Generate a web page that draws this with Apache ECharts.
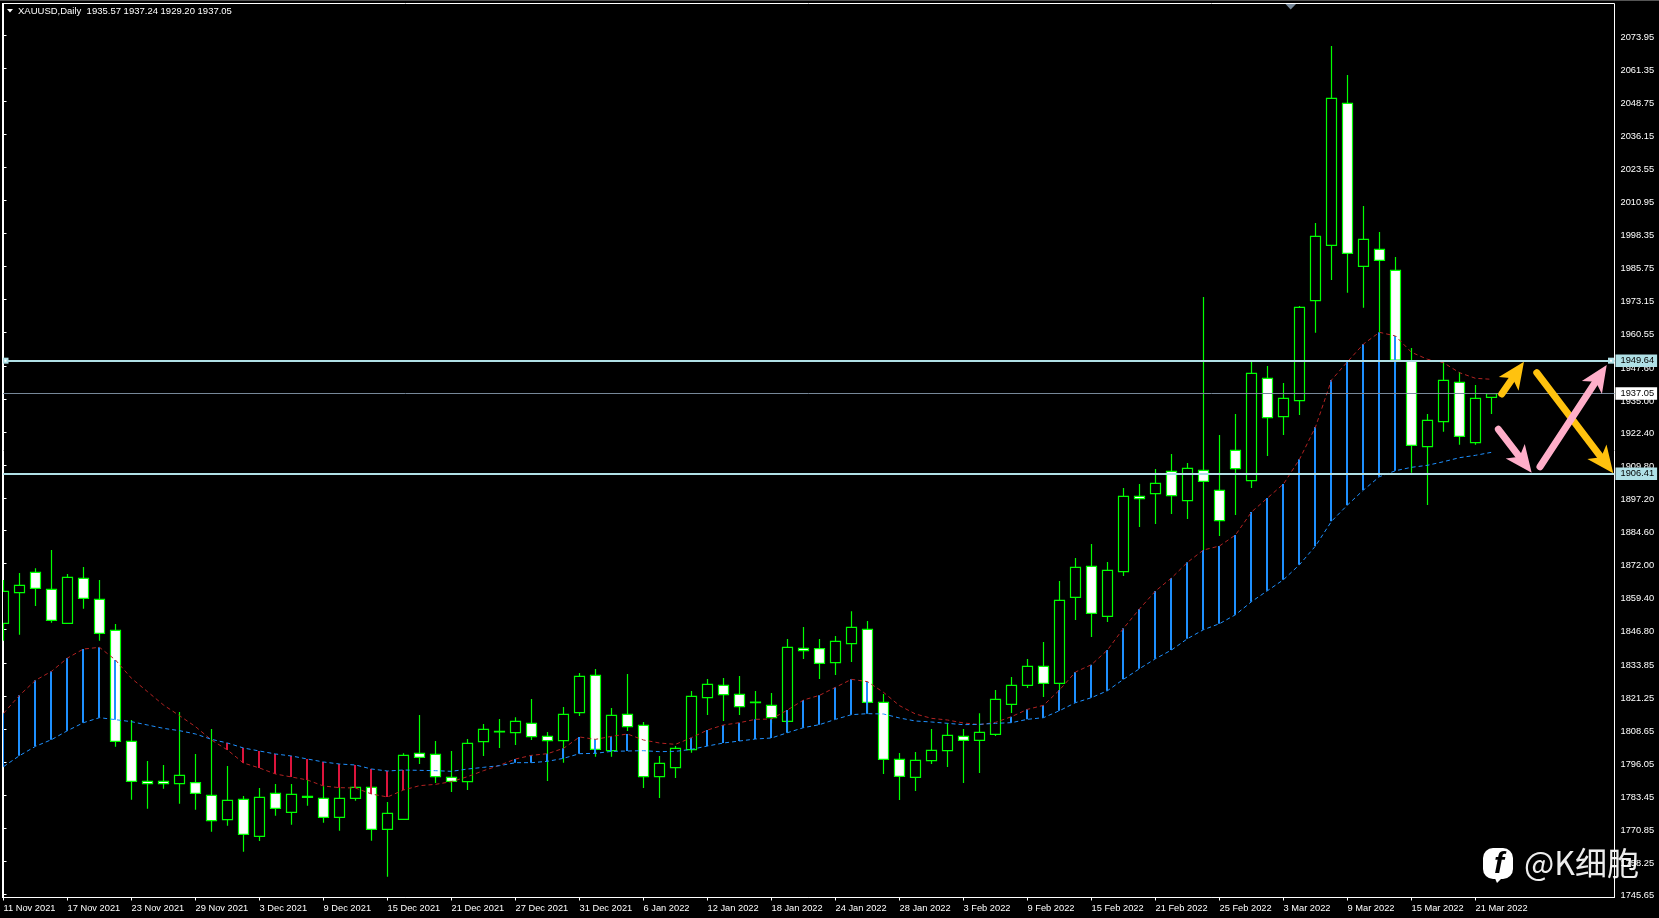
<!DOCTYPE html>
<html>
<head>
<meta charset="utf-8">
<title>XAUUSD Daily</title>
<script src="https://cdn.jsdelivr.net/npm/echarts@6/dist/echarts.min.js"></script>
<style>html,body{margin:0;padding:0;background:#000;overflow:hidden}#chart{width:1659px;height:918px}</style>
</head>
<body>
<div id="chart"></div>
<script>
const dateLabels = ['11 Nov 2021','17 Nov 2021','23 Nov 2021','29 Nov 2021','3 Dec 2021','9 Dec 2021','15 Dec 2021','21 Dec 2021','27 Dec 2021','31 Dec 2021','6 Jan 2022','12 Jan 2022','18 Jan 2022','24 Jan 2022','28 Jan 2022','3 Feb 2022','9 Feb 2022','15 Feb 2022','21 Feb 2022','25 Feb 2022','3 Mar 2022','9 Mar 2022','15 Mar 2022','21 Mar 2022'];
const priceTicks = [2073.95,2061.35,2048.75,2036.15,2023.55,2010.95,1998.35,1985.75,1973.15,1960.55,1947.60,1935.00,1922.40,1909.80,1897.20,1884.60,1872.00,1859.40,1846.80,1833.85,1821.25,1808.65,1796.05,1783.45,1770.85,1758.25,1745.65];
// open, close, low, high
const ohlc = [
[1849.16,1861.40,1842.53,1865.74],[1860.89,1863.70,1844.83,1868.42],[1868.67,1862.55,1855.79,1870.20],[1862.17,1850.31,1849.42,1877.22],
[1849.16,1866.76,1849.16,1868.03],[1866.38,1858.73,1854.77,1870.71],[1858.35,1845.34,1842.53,1865.74],[1846.49,1804.02,1801.98,1848.91],
[1804.02,1788.72,1781.70,1812.18],[1788.72,1787.83,1778.26,1796.50],[1788.72,1787.83,1785.91,1794.97],[1787.83,1791.01,1780.18,1815.24],
[1788.21,1784.13,1777.88,1799.18],[1783.36,1773.67,1769.46,1808.74],[1774.05,1781.45,1771.76,1794.59],[1781.83,1768.44,1761.80,1783.11],
[1767.68,1782.60,1765.90,1786.17],[1784.13,1778.39,1775.58,1787.70],[1776.86,1783.75,1772.14,1787.70],[1782.60,1782.98,1779.41,1789.87],
[1782.22,1774.95,1772.91,1787.32],[1774.95,1782.22,1769.85,1786.68],[1782.22,1786.42,1781.32,1786.90],[1786.42,1770.35,1766.00,1787.00],
[1770.35,1776.47,1752.24,1780.81],[1774.20,1798.66,1774.20,1799.43],[1799.43,1797.90,1795.35,1814.09],[1799.05,1790.50,1788.08,1804.15],
[1790.25,1788.72,1784.64,1800.32],[1788.59,1803.25,1785.40,1804.91],[1803.89,1808.61,1798.41,1810.65],[1807.59,1807.84,1801.47,1812.56],
[1807.33,1811.67,1802.62,1813.20],[1810.91,1805.80,1804.53,1820.21],[1805.93,1804.27,1788.84,1807.59],[1804.27,1814.35,1795.86,1817.15],
[1814.99,1828.89,1813.71,1830.16],[1829.27,1800.96,1798.15,1831.69],[1800.45,1813.97,1798.15,1816.77],[1814.35,1809.63,1807.97,1829.78],
[1810.14,1790.50,1786.17,1811.42],[1790.50,1795.60,1782.34,1798.41],[1793.95,1801.34,1789.99,1802.23],[1800.83,1821.23,1799.68,1823.27],
[1820.72,1825.83,1814.09,1827.87],[1825.44,1821.87,1811.80,1828.25],[1822.00,1817.28,1814.09,1829.01],[1818.81,1819.07,1812.56,1823.27],
[1817.79,1813.07,1810.91,1822.51],[1811.67,1839.98,1807.34,1843.17],[1839.60,1838.71,1835.52,1847.76],[1839.47,1833.86,1827.87,1843.17],
[1834.12,1842.28,1829.40,1844.32],[1841.38,1847.63,1834.37,1853.75],[1846.87,1818.94,1814.73,1850.06],[1818.94,1797.14,1791.53,1822.13],
[1797.14,1790.63,1781.58,1799.56],[1790.25,1796.75,1785.02,1799.94],[1796.63,1800.58,1795.35,1808.74],[1800.45,1806.32,1794.20,1810.91],
[1805.93,1804.40,1788.08,1808.74],[1804.40,1807.46,1791.91,1814.73],[1806.70,1820.09,1806.06,1823.66],[1818.18,1825.44,1814.86,1828.63],
[1825.44,1832.72,1824.42,1835.52],[1832.72,1826.21,1820.98,1842.02],[1826.21,1857.96,1823.66,1865.36],[1859.11,1870.59,1850.44,1874.16],
[1870.97,1852.99,1843.94,1879.51],[1851.84,1869.44,1849.67,1872.63],[1868.92,1897.74,1867.27,1900.93],[1897.74,1896.85,1886.01,1902.46],
[1898.76,1902.72,1887.16,1908.20],[1907.31,1898.00,1890.99,1913.94],[1896.09,1908.46,1889.07,1910.50],[1907.69,1903.48,1877.21,1974.00],
[1900.04,1888.43,1882.57,1921.21],[1915.34,1908.33,1890.60,1929.24],[1903.74,1944.80,1900.93,1949.13],[1942.89,1927.84,1913.17,1947.60],
[1928.22,1935.23,1921.21,1941.10],[1934.34,1970.05,1928.86,1970.56],[1972.59,1997.21,1960.35,2002.31],[1993.76,2050.00,1980.50,2070.02],
[2048.09,1990.70,1975.65,2058.92],[1985.73,1996.06,1969.92,2008.81],[1992.23,1988.02,1957.55,1998.86],[1984.20,1949.90,1948.00,1989.30],
[1949.52,1917.27,1906.79,1954.49],[1916.73,1926.84,1894.43,1929.24],[1926.30,1942.14,1922.47,1949.14],[1941.37,1920.71,1917.50,1945.31],
[1918.27,1935.25,1917.50,1940.34],[1935.57,1937.05,1929.20,1937.24]
];
const redLine = [1814.73,1821.62,1827.36,1830.80,1835.90,1839.34,1839.98,1835.13,1828.12,1823.02,1817.92,1813.84,1809.63,1804.53,1800.70,1795.73,1793.82,1791.53,1790.38,1789.23,1786.93,1786.30,1786.17,1783.87,1782.73,1785.40,1787.06,1787.57,1788.59,1790.50,1792.80,1794.84,1797.26,1798.66,1799.30,1801.34,1805.68,1804.78,1805.93,1806.82,1804.53,1803.38,1802.87,1805.42,1808.35,1810.27,1811.16,1812.44,1812.56,1816.01,1819.83,1821.62,1824.68,1827.74,1826.85,1822.77,1817.67,1814.48,1812.82,1812.18,1811.04,1810.40,1811.29,1813.46,1816.26,1817.79,1823.66,1830.55,1833.35,1838.96,1847.26,1854.65,1861.53,1866.51,1872.51,1877.22,1878.75,1882.96,1891.75,1897.11,1902.47,1911.92,1924.27,1942.25,1949.25,1956.02,1960.50,1959.08,1952.85,1950.17,1948.87,1945.04,1942.90,1942.52];
const blueLine = [1794.33,1798.54,1802.11,1804.66,1808.10,1811.16,1813.08,1812.31,1811.54,1810.27,1808.99,1808.10,1806.83,1804.78,1803.38,1801.47,1800.32,1799.18,1798.41,1797.26,1796.12,1795.35,1794.97,1793.44,1792.67,1793.05,1792.92,1792.80,1792.54,1793.43,1794.07,1794.71,1795.86,1795.86,1796.37,1797.52,1799.30,1799.43,1800.19,1800.32,1800.45,1800.07,1800.19,1800.96,1802.23,1803.38,1804.15,1804.91,1805.29,1807.33,1809.25,1810.40,1812.44,1814.22,1814.61,1814.48,1812.95,1811.80,1811.42,1810.91,1810.40,1810.53,1810.91,1811.16,1812.44,1813.08,1815.75,1818.81,1820.73,1823.40,1827.75,1831.81,1835.63,1838.96,1843.29,1846.73,1849.03,1852.46,1857.44,1861.65,1865.86,1871.59,1878.75,1888.20,1894.43,1900.17,1905.26,1907.55,1908.85,1909.62,1911.00,1912.53,1913.44,1914.59];
const blueBarRuns = [[0,7],[32,39],[43,54],[63,87]];
const redBarRuns = [[14,25]];
const levelHigh = 1949.64, levelLow = 1906.41, lastPrice = 1937.05;
const levelHandleX = [0.125, 100.47];
const headerText = 'XAUUSD,Daily  1935.57 1937.24 1929.20 1937.05';
// from x, from price, tip x, tip price, colour index
const arrowSegments = [
  [93.64,1936.90,95.03,1949.26,0],
  [93.43,1923.39,95.51,1906.79,1],
  [95.83,1945.04,100.61,1906.56,0],
  [96.03,1909.08,100.20,1948.01,1]
];
const arrowColours = ['#FFC20E','#FFAEC9'];

const UI = 'Liberation Sans';
const candleData = ohlc.map((d, i) => [i, d[0], d[1], d[2], d[3]]);
const barData = [];
blueBarRuns.forEach(r => { for (let i = r[0]; i <= r[1]; i++) barData.push([i, blueLine[i], redLine[i], 0]); });
redBarRuns.forEach(r => { for (let i = r[0]; i <= r[1]; i++) barData.push([i, redLine[i], blueLine[i], 1]); });

const priceLabel = (bg) => ({
  show: true, position: 'end', distance: 1, formatter: p => p.value.toFixed(2),
  backgroundColor: bg, color: '#000', fontFamily: UI, fontSize: 9.3, padding: [2.5, 3, 1, 5]
});

const chart = echarts.init(document.getElementById('chart'), null, {renderer: 'canvas'});
chart.setOption({
  animation: false,
  backgroundColor: '#000',
  title: {text: headerText, left: 18, top: 6, padding: 0, textStyle: {color: '#fff', fontFamily: UI, fontSize: 9.5, fontWeight: 'normal'}},
  grid: {left: 2.5, top: 3.5, right: 44.5, bottom: 20.5, show: true, backgroundColor: '#000', borderColor: '#fff', borderWidth: 1},
  xAxis: {
    type: 'value', min: -0.0625, max: 100.6875, splitLine: {show: false},
    axisLine: {show: true, lineStyle: {color: '#fff', width: 1}},
    axisTick: {show: true, length: 3, lineStyle: {color: '#fff'}, customValues: dateLabels.map((_, k) => k * 4)},
    axisLabel: {
      color: '#fff', fontFamily: UI, fontSize: 9.3, margin: 6, align: 'left', showMinLabel: true, hideOverlap: false,
      customValues: dateLabels.map((_, k) => k * 4),
      formatter: v => dateLabels[Math.round(v / 4)] || ''
    }
  },
  yAxis: {
    type: 'value', position: 'right', min: 1744.28, max: 2086.28, splitLine: {show: false},
    axisLine: {show: true, lineStyle: {color: '#fff', width: 1}},
    axisTick: {show: true, length: 3, lineStyle: {color: '#fff'}, customValues: priceTicks},
    axisLabel: {color: '#fff', fontFamily: UI, fontSize: 9.3, margin: 6, verticalAlign: 'top', lineHeight: 4, customValues: priceTicks, formatter: v => v.toFixed(2)}
  },
  series: [
    {
      name: 'XAUUSD', type: 'candlestick', z: 2, barWidth: 10, data: candleData, silent: true,
      itemStyle: {color: '#000', color0: '#fff', borderColor: '#00ff00', borderColor0: '#00ff00', borderColorDoji: '#00ff00', borderWidth: 1.2}
    },
    {
      name: 'Range bars', type: 'custom', z: 3, data: barData, silent: true, encode: {x: 0, y: [1, 2]},
      renderItem: (params, api) => {
        const top = api.coord([api.value(0), api.value(2)]);
        const bot = api.coord([api.value(0), api.value(1)]);
        return {type: 'rect', shape: {x: Math.floor(top[0]) - 1, y: top[1], width: 2, height: bot[1] - top[1]},
                style: {fill: api.value(3) === 1 ? '#DC143C' : '#1E90FF'}};
      }
    },
    {name: 'Fast', type: 'line', z: 4, showSymbol: false, silent: true, data: redLine.map((v, i) => [i, v]),
     lineStyle: {color: '#B22222', width: 1, type: [4, 3]}},
    {name: 'Slow', type: 'line', z: 4, showSymbol: false, silent: true, data: blueLine.map((v, i) => [i, v]),
     lineStyle: {color: '#1E90FF', width: 1, type: [4, 3]}},
    {name: 'Last', type: 'line', z: 5, data: [], silent: true,
     markLine: {silent: true, animation: false, symbol: 'none', lineStyle: {color: '#778899', width: 1, type: 'solid'},
       label: priceLabel('#fff'), data: [{yAxis: lastPrice}]}},
    {name: 'Levels', type: 'line', z: 6, data: [], silent: true,
     markLine: {silent: true, animation: false, symbol: 'none',
       lineStyle: {color: '#B0E0E6', width: 2, type: 'solid'},
       label: priceLabel('#B0E0E6'), data: [{yAxis: levelHigh}, {yAxis: levelLow}]}},
    {name: 'Handles', type: 'scatter', z: 6, silent: true, symbol: 'rect', symbolSize: 6, itemStyle: {color: '#B0E0E6', opacity: 1},
     data: levelHandleX.map(x => [x, levelHigh])},
    {name: 'Handle centres', type: 'scatter', z: 6, silent: true, symbol: 'rect', symbolSize: 2, itemStyle: {color: '#fff', opacity: 1},
     data: levelHandleX.map(x => [x, levelHigh])},
    {
      name: 'Arrows', type: 'custom', z: 7, silent: true, clip: false, data: arrowSegments, encode: {x: [0, 2], y: [1, 3]},
      renderItem: (params, api) => {
        const a = api.coord([api.value(0), api.value(1)]);
        const b = api.coord([api.value(2), api.value(3)]);
        const color = arrowColours[api.value(4)];
        const dx = b[0] - a[0], dy = b[1] - a[1], len = Math.hypot(dx, dy);
        const ux = dx / len, uy = dy / len, nx = -uy, ny = ux;
        const headLen = 27, halfW = 12, notch = 20;
        const at = (back, side) => [b[0] - ux * back + nx * side, b[1] - uy * back + ny * side];
        return {type: 'group', children: [
          {type: 'line', shape: {x1: a[0], y1: a[1], x2: b[0] - ux * notch, y2: b[1] - uy * notch},
           style: {stroke: color, lineWidth: 7, lineCap: 'round', fill: null}},
          {type: 'polygon', shape: {points: [b, at(headLen, halfW), at(notch, 0), at(headLen, -halfW)]}, style: {fill: color}}
        ]};
      }
    }
  ],
  graphic: [
    {type: 'rect', z: 50, silent: true, shape: {x: 0, y: 0, width: 1659, height: 1}, style: {fill: '#555'}},
    {type: 'rect', z: 50, silent: true, shape: {x: 0, y: 1, width: 2, height: 897}, style: {fill: '#000'}},
    {type: 'rect', z: 50, silent: true, shape: {x: 2, y: 3, width: 1, height: 895}, style: {fill: '#fff'}},
    {type: 'polygon', z: 50, silent: true, shape: {points: [[7, 9], [13, 9], [10, 12.5]]}, style: {fill: '#fff'}},
    {type: 'polygon', z: 50, silent: true, shape: {points: [[1285.5, 4], [1296, 4], [1290.7, 9.5]]}, style: {fill: '#778899'}},
    {type: 'group', z: 60, silent: true, children: [
      {type: 'rect', z: 60, shape: {x: 1483, y: 848, width: 30, height: 31, r: 10}, style: {fill: '#fff'}},
      {type: 'polygon', z: 60, shape: {points: [[1494, 876], [1504, 876], [1497, 883]]}, style: {fill: '#fff'}},
      {type: 'text', z: 61, style: {x: 1499, y: 865, text: 'f', fill: '#000', font: 'italic bold 30px "Liberation Sans"', align: 'center', verticalAlign: 'middle'}},
      {type: 'text', z: 61, style: {x: 1524, y: 863, text: '@K细胞', fill: 'rgba(255,255,255,0.93)', font: '32px "Noto Sans CJK SC"', align: 'left', verticalAlign: 'middle'}}
    ]}
  ]
});
</script>
</body>
</html>
